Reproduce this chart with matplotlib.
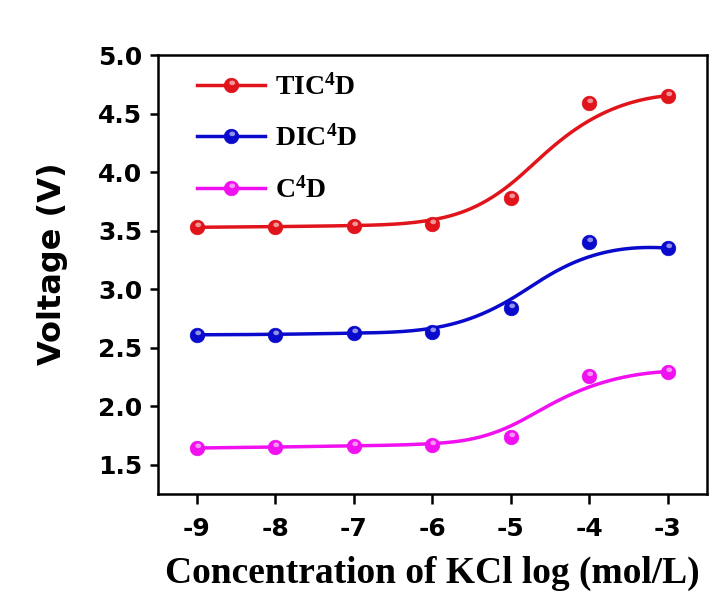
import numpy as np
import matplotlib
matplotlib.use("Agg")
import matplotlib.pyplot as plt
from matplotlib.path import Path
from matplotlib.lines import Line2D
from matplotlib.legend_handler import HandlerTuple

# ---- data ----
log_conc = [-9, -8, -7, -6, -5, -4, -3]
tic4d = [3.53, 3.535, 3.543, 3.56, 3.78, 4.59, 4.655]
dic4d = [2.611, 2.613, 2.626, 2.634, 2.844, 3.40, 3.352]
c4d = [1.643, 1.651, 1.662, 1.671, 1.74, 2.26, 2.297]
series_labels = ["TIC$^{4}$D", "DIC$^{4}$D", "C$^{4}$D"]
series_colors = ["#e0141a", "#0a0acc", "#f010f0"]
xticks = [-9, -8, -7, -6, -5, -4, -3]
yticks = [1.5, 2.0, 2.5, 3.0, 3.5, 4.0, 4.5, 5.0]

plt.rcParams['mathtext.fontset'] = 'custom'
plt.rcParams['mathtext.rm'] = 'Liberation Serif:bold'
plt.rcParams['mathtext.it'] = 'Liberation Serif:bold'
plt.rcParams['mathtext.bf'] = 'Liberation Serif:bold'


def clamped_bspline(px, py, n=400, k=3):
    """Cubic B-spline using the data points as control points (Origin B-spline style)."""
    px = np.asarray(px, float)
    py = np.asarray(py, float)
    m = len(px)
    knots = np.concatenate([np.zeros(k), np.arange(0, m - k + 1), np.full(k, m - k)]).astype(float)
    t = np.linspace(0, m - k, n)
    t[-1] -= 1e-9

    def N(i, p):
        if p == 0:
            return ((knots[i] <= t) & (t < knots[i + 1])).astype(float)
        out = np.zeros_like(t)
        d1 = knots[i + p] - knots[i]
        d2 = knots[i + p + 1] - knots[i + 1]
        if d1 > 0:
            out += (t - knots[i]) / d1 * N(i, p - 1)
        if d2 > 0:
            out += (knots[i + p + 1] - t) / d2 * N(i + 1, p - 1)
        return out

    B = np.array([N(i, k) for i in range(m)])
    return B.T @ px, B.T @ py


# highlight marker: spot in the upper part of the ball
th = np.linspace(0, 2 * np.pi, 40)
hv = np.column_stack([0.10 + 0.40 * np.cos(th), 0.36 + 0.32 * np.sin(th)])
verts = np.vstack([[[-1, -1]], [[1, 1]], hv])
codes = [Path.MOVETO, Path.MOVETO, Path.MOVETO] + [Path.LINETO] * (len(hv) - 2) + [Path.CLOSEPOLY]
highlight = Path(verts, codes)

MS = 10.5
LW = 2.5

fig = plt.figure(figsize=(7.23, 6.08), dpi=100)
ax = fig.add_axes([0.218, 0.1875, 0.7595, 0.7215])

handles = []
for ys, col, lab in zip([tic4d, dic4d, c4d], series_colors, series_labels):
    sx, sy = clamped_bspline(log_conc, ys)
    ax.plot(sx, sy, color=col, lw=LW, solid_capstyle='round', zorder=2)
    ax.plot(log_conc, ys, ls='none', marker='o', markersize=MS,
            markerfacecolor=col, markeredgecolor=col, markeredgewidth=0.5, zorder=3)
    ax.plot(log_conc, ys, ls='none', marker=highlight, markersize=MS,
            markerfacecolor='white', markeredgewidth=0, alpha=0.55, zorder=4)
    lh = Line2D([], [], color=col, lw=LW, marker='o', markersize=MS,
                markerfacecolor=col, markeredgecolor=col, markeredgewidth=0.5)
    lhh = Line2D([], [], ls='none', marker=highlight, markersize=MS,
                 markerfacecolor='white', markeredgewidth=0, alpha=0.55)
    handles.append((lh, lhh))

ax.set_xlim(-9.5, -2.5)
ax.set_ylim(1.25, 5.0)
ax.set_xticks(xticks)
ax.set_xticklabels([str(v) for v in xticks])
ax.set_yticks(yticks)
ax.set_yticklabels([f"{v:.1f}" for v in yticks])

for s in ax.spines.values():
    s.set_linewidth(1.8)
ax.tick_params(axis='both', direction='out', width=1.8, labelsize=18)
ax.tick_params(axis='y', length=6, pad=5)
ax.tick_params(axis='x', length=7.5, pad=9)
for lbl in ax.get_xticklabels() + ax.get_yticklabels():
    lbl.set_fontfamily('DejaVu Sans')
    lbl.set_fontweight('bold')

ax.set_xlabel("Concentration of KCl log (mol/L)", fontfamily='Liberation Serif',
              fontweight='bold', fontsize=27, labelpad=11)
ax.set_ylabel("Voltage (V)", fontfamily='DejaVu Sans', fontweight='bold', fontsize=23)
ax.yaxis.set_label_coords(-0.163, 0.525)

leg = ax.legend(handles, series_labels, handler_map={tuple: HandlerTuple(ndivide=1)},
                loc='upper left', bbox_to_anchor=(0.072, 0.958), frameon=False,
                prop={'family': 'Liberation Serif', 'weight': 'bold', 'size': 20},
                handlelength=2.45, handletextpad=0.35, labelspacing=0.9,
                borderpad=0, borderaxespad=0)

fig.savefig("out.png", dpi=100)
